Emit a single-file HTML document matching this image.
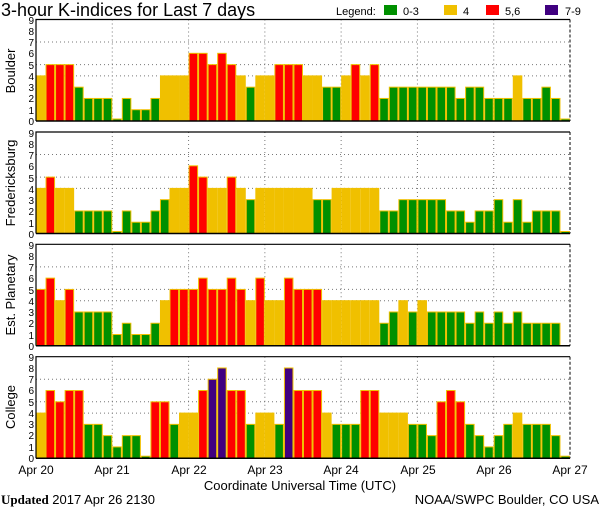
<!DOCTYPE html>
<html><head><meta charset="utf-8"><style>
html,body{margin:0;padding:0;background:#fff;}
svg{display:block;font-family:"Liberation Sans",sans-serif;}
</style></head><body>
<svg id="s" width="600" height="510" viewBox="0 0 600 510" xmlns="http://www.w3.org/2000/svg">
<text x="1" y="16" font-size="18" fill="#000">3-hour K-indices for Last 7 days</text>
<text x="336" y="15" font-size="11">Legend:</text>
<rect x="384" y="5" width="13" height="10" fill="#009000"/><text x="403" y="15" font-size="11">0-3</text>
<rect x="444" y="5" width="13" height="10" fill="#f0c000"/><text x="463" y="15" font-size="11">4</text>
<rect x="486" y="5" width="13" height="10" fill="#ff0000"/><text x="505" y="15" font-size="11">5,6</text>
<rect x="545" y="5" width="13" height="10" fill="#400080"/><text x="565" y="15" font-size="11">7-9</text>
<g id="bars"></g>
<g font-size="10" text-anchor="end" fill="#000">
<text x="34" y="125">0</text><text x="34" y="114">1</text><text x="34" y="102">2</text><text x="34" y="91">3</text><text x="34" y="80">4</text><text x="34" y="69">5</text><text x="34" y="57">6</text><text x="34" y="46">7</text><text x="34" y="35">8</text><text x="34" y="24">9</text>
<text x="34" y="238">0</text><text x="34" y="227">1</text><text x="34" y="215">2</text><text x="34" y="204">3</text><text x="34" y="193">4</text><text x="34" y="182">5</text><text x="34" y="170">6</text><text x="34" y="159">7</text><text x="34" y="148">8</text><text x="34" y="137">9</text>
<text x="34" y="350">0</text><text x="34" y="339">1</text><text x="34" y="327">2</text><text x="34" y="316">3</text><text x="34" y="305">4</text><text x="34" y="294">5</text><text x="34" y="282">6</text><text x="34" y="271">7</text><text x="34" y="260">8</text><text x="34" y="249">9</text>
<text x="34" y="462">0</text><text x="34" y="451">1</text><text x="34" y="439">2</text><text x="34" y="428">3</text><text x="34" y="417">4</text><text x="34" y="406">5</text><text x="34" y="394">6</text><text x="34" y="383">7</text><text x="34" y="372">8</text><text x="34" y="361">9</text>
</g>
<g font-size="13" text-anchor="middle">
<text transform="translate(15,71) rotate(-90)">Boulder</text>
<text transform="translate(15,183) rotate(-90)">Fredericksburg</text>
<text transform="translate(15,295) rotate(-90)">Est. Planetary</text>
<text transform="translate(15,407) rotate(-90)">College</text>
</g>
<g font-size="12" text-anchor="middle">
<text x="36" y="474">Apr 20</text><text x="112" y="474">Apr 21</text><text x="189" y="474">Apr 22</text><text x="265" y="474">Apr 23</text><text x="341" y="474">Apr 24</text><text x="418" y="474">Apr 25</text><text x="494" y="474">Apr 26</text><text x="570" y="474">Apr 27</text>
</g>
<text x="300" y="490" font-size="13" text-anchor="middle">Coordinate Universal Time (UTC)</text>
<text x="1" y="504" font-size="13"><tspan font-weight="bold" font-family="Liberation Serif,serif">Updated</tspan> 2017 Apr 26 2130</text>
<text x="599" y="504" font-size="13" text-anchor="end">NOAA/SWPC Boulder, CO USA</text>
</svg>
<script>
var data=[
[4,5,5,5,3,2,2,2,0,2,1,1,2,4,4,4,6,6,5,6,5,4,3,4,4,5,5,5,4,4,3,3,4,5,4,5,2,3,3,3,3,3,3,3,2,3,3,2,2,2,4,2,2,3,2,0],
[4,5,4,4,2,2,2,2,0,2,1,1,2,3,4,4,6,5,4,4,5,4,3,4,4,4,4,4,4,3,3,4,4,4,4,4,2,2,3,3,3,3,3,2,2,1,2,2,3,1,3,1,2,2,2,0],
[5,6,4,5,3,3,3,3,1,2,1,1,2,4,5,5,5,6,5,5,6,5,4,6,4,4,6,5,5,5,4,4,4,4,4,4,2,3,4,3,4,3,3,3,3,2,3,2,3,2,3,2,2,2,2,-1],
[4,6,5,6,6,3,3,2,1,2,2,0,5,5,3,4,4,6,7,8,6,6,3,4,4,3,8,6,6,6,4,3,3,3,6,6,4,4,4,3,3,2,5,6,5,3,2,1,2,3,4,3,3,3,2,0]];
var tops=[19.5,132,244.3,356.7],H=101.5,L=36,R=570,u=H/9,bw=(R-L)/56;
var g=document.getElementById('bars'),h='';
function col(v){return v<=3?'#009000':v==4?'#f0c000':v<=6?'#ff0000':'#400080';}
for(var p=0;p<4;p++){var t=tops[p],b=t+H;
 h+='<rect x="'+L+'" y="'+t+'" width="'+(R-L)+'" height="'+H+'" fill="#fff"/>';
 [4,5,7].forEach(function(k){var y=b-k*u;h+='<line x1="'+L+'" x2="'+R+'" y1="'+y+'" y2="'+y+'" stroke="#777" stroke-dasharray="1,3"/>';});
 for(var d=1;d<7;d++){var x=L+d*(R-L)/7;h+='<line x1="'+x+'" x2="'+x+'" y1="'+t+'" y2="'+b+'" stroke="#777" stroke-dasharray="1,3"/>';}
 for(var i=0;i<56;i++){var v=data[p][i];if(v<0)continue;var x=L+i*bw,hh=v==0?2:v*u;
  h+='<rect x="'+(x+0.5)+'" y="'+(b-hh)+'" width="'+(bw-1)+'" height="'+hh+'" fill="'+col(v)+'" stroke="#f0c000" stroke-width="1"/>';}
 h+='<path d="M'+L+' '+b+'V'+t+'H'+R+'" fill="none" stroke="#000" stroke-width="1.2"/>';
 h+='<line x1="'+R+'" x2="'+R+'" y1="'+t+'" y2="'+b+'" stroke="#000" stroke-dasharray="3,2"/>';
 h+='<line x1="'+L+'" x2="'+R+'" y1="'+b+'" y2="'+b+'" stroke="#000" stroke-width="1.5"/>';
}
g.innerHTML=h;
</script>
</body></html>
